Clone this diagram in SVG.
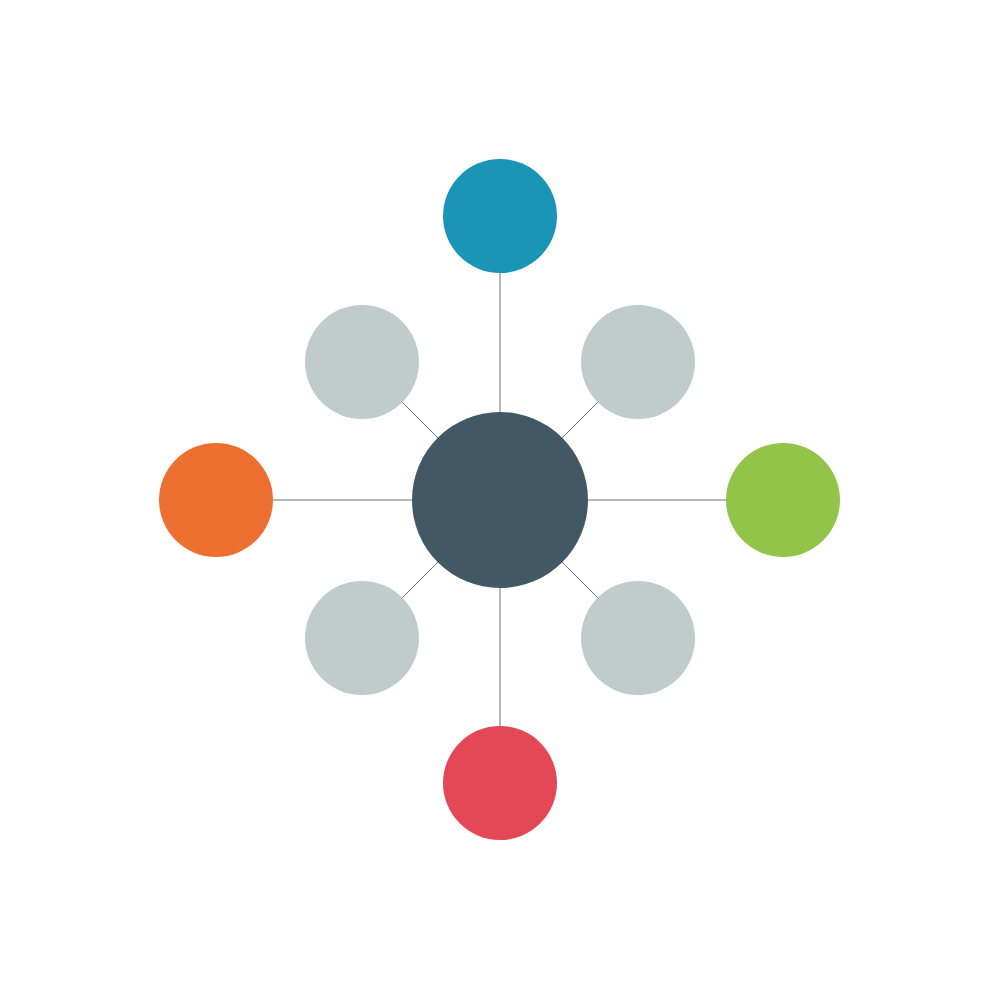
<svg xmlns="http://www.w3.org/2000/svg" width="1000" height="1000" viewBox="0 0 1000 1000">
<style>
.axis{stroke:#a0a0a0;stroke-width:1.5;fill:none}
.diag{stroke:#555;stroke-width:0.8;fill:none}
.sat{fill:#bfcccb}
</style>
<rect width="1000" height="1000" fill="#fff"/>
<g id="connectors">
<line class="axis" x1="500" y1="272" x2="500" y2="412"/>
<line class="axis" x1="500" y1="588" x2="500" y2="727"/>
<line class="axis" x1="272" y1="500" x2="412" y2="500"/>
<line class="axis" x1="588" y1="500" x2="727" y2="500"/>
<line class="diag" x1="402" y1="402" x2="438" y2="438"/>
<line class="diag" x1="598" y1="402" x2="562" y2="438"/>
<line class="diag" x1="402" y1="598" x2="438" y2="562"/>
<line class="diag" x1="598" y1="598" x2="562" y2="562"/>
</g>
<g id="node-center"><circle cx="500" cy="500" r="88" fill="#435865"/></g>
<g id="node-top"><circle cx="500" cy="216" r="57" fill="#1a95b6"/></g>
<g id="node-bottom"><circle cx="500" cy="783" r="57" fill="#e44857"/></g>
<g id="node-left"><circle cx="216" cy="500" r="57" fill="#ed6f2f"/></g>
<g id="node-right"><circle cx="783" cy="500" r="57" fill="#92c44a"/></g>
<g id="node-tl"><circle class="sat" cx="362" cy="362" r="57"/></g>
<g id="node-tr"><circle class="sat" cx="638" cy="362" r="57"/></g>
<g id="node-bl"><circle class="sat" cx="362" cy="638" r="57"/></g>
<g id="node-br"><circle class="sat" cx="638" cy="638" r="57"/></g>
</svg>
